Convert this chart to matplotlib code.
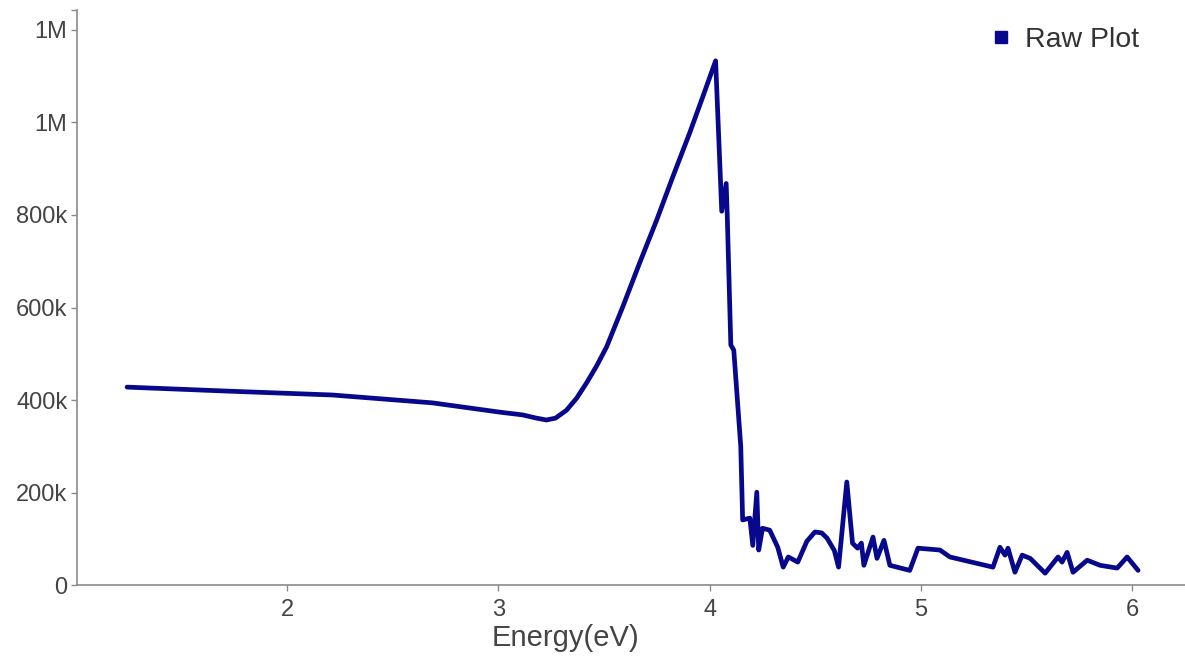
import matplotlib.pyplot as plt
from matplotlib.lines import Line2D

plt.rcParams['font.family'] = ['Liberation Sans', 'DejaVu Sans']

# Raw spectrum (energy in eV, intensity in counts)
energy = [
    1.242, 1.739, 2.213, 2.687, 3.005, 3.114, 3.180, 3.227, 3.270, 3.322,
    3.370, 3.417, 3.465, 3.512, 3.588, 3.668, 3.749, 3.825, 3.905, 3.967,
    4.028, 4.057, 4.078, 4.083, 4.100, 4.114, 4.147, 4.156, 4.190, 4.204,
    4.223, 4.232, 4.250, 4.284, 4.322, 4.348, 4.372, 4.417, 4.460, 4.498,
    4.530, 4.555, 4.590, 4.610, 4.649, 4.676, 4.700, 4.718, 4.730, 4.773,
    4.792, 4.825, 4.853, 4.947, 4.986, 5.090, 5.137, 5.341, 5.374, 5.398,
    5.412, 5.445, 5.479, 5.517, 5.588, 5.649, 5.668, 5.692, 5.720, 5.787,
    5.848, 5.929, 5.976, 6.028,
]
intensity = [
    428000, 419000, 411000, 394000, 374000, 368000, 361000, 357000, 361000, 378000,
    404000, 437000, 474000, 515000, 601000, 696000, 789000, 882000, 977000, 1055000,
    1133000, 808000, 868000, 800000, 519000, 508000, 300000, 141000, 145000, 86000,
    201000, 76000, 123000, 119000, 82000, 39000, 61000, 50000, 95000, 115000,
    113000, 102000, 75000, 39000, 223000, 91000, 80000, 91000, 43000, 104000,
    58000, 97000, 43000, 32000, 80000, 76000, 61000, 39000, 82000, 65000,
    80000, 28000, 65000, 58000, 26000, 61000, 50000, 71000, 28000, 54000,
    43000, 37000, 61000, 32000,
]

y_ticks = [0, 200000, 400000, 600000, 800000, 1000000, 1200000]
y_tick_labels = ['0', '200k', '400k', '600k', '800k', '1M', '1M']
x_ticks = [2, 3, 4, 5, 6]

line_color = '#08088c'
axis_color = '#8a8a8a'
text_color = '#444444'

fig = plt.figure(figsize=(11.85, 6.62), dpi=100)
ax = fig.add_axes([0.065, 0.116, 0.935, 0.869])

ax.plot(energy, intensity, color=line_color, linewidth=3.4,
        solid_joinstyle='round', solid_capstyle='round')

ax.set_xlim(1.005, 6.25)
ax.set_ylim(0, 1243000)
ax.set_xticks(x_ticks)
ax.set_xticklabels([str(t) for t in x_ticks])
ax.set_yticks(y_ticks)
ax.set_yticklabels(y_tick_labels)
ax.set_yticks([1243000], minor=True)

for side in ['top', 'right']:
    ax.spines[side].set_visible(False)
for side in ['left', 'bottom']:
    ax.spines[side].set_color(axis_color)
    ax.spines[side].set_linewidth(1.2)

ax.tick_params(axis='both', which='major', length=4, width=1, color=axis_color,
               labelcolor=text_color, labelsize=17, pad=3)
ax.tick_params(axis='y', which='minor', length=4, width=1, color=axis_color)
ax.tick_params(axis='x', pad=6)

ax.set_xlabel('Energy(eV)', fontsize=21, color=text_color)
ax.xaxis.set_label_coords(0.441, -0.068)

# legend: small square swatch + label, top right
handle = Line2D([], [], linestyle='none', marker='s', markersize=9,
                markerfacecolor=line_color, markeredgecolor=line_color)
leg = ax.legend([handle], ['Raw Plot'], loc='upper right', frameon=False,
                fontsize=20.5, handlelength=0.6, handletextpad=0.55,
                bbox_to_anchor=(0.977, 1.005), borderaxespad=0.3)
for t in leg.get_texts():
    t.set_color('#333333')

fig.savefig('out.png', dpi=100)
